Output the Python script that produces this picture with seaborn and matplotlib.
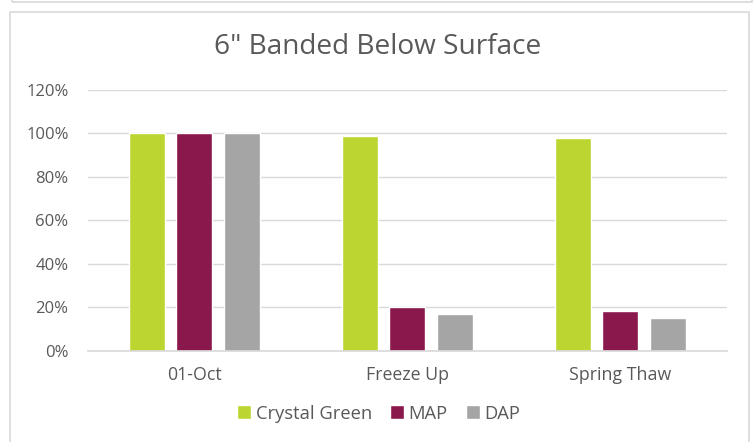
import pandas as pd
import matplotlib.pyplot as plt
import seaborn as sns
from matplotlib.patches import Rectangle
from matplotlib.ticker import PercentFormatter

stages = ['01-Oct', 'Freeze Up', 'Spring Thaw']
products = ['Crystal Green', 'MAP', 'DAP']
crystal_green = [100, 99, 98]
map_vals = [100, 20, 18]
dap_vals = [100, 17, 15]
colors = ['#bdd531', '#8b184d', '#a5a5a5']

df = pd.DataFrame({
    'stage': stages * 3,
    'product': [p for p in products for _ in stages],
    'value': [v / 100 for v in crystal_green + map_vals + dap_vals],
})

sns.set_theme(style='white')
plt.rcParams['font.family'] = ['Open Sans', 'DejaVu Sans']
text_col = '#595959'

fig = plt.figure(figsize=(7.56, 4.42), dpi=100)
ax = fig.add_axes([0.1164, 0.207, 0.8452, 0.5894])

sns.barplot(data=df, x='stage', y='value', hue='product', palette=colors,
            width=0.669, gap=0.242, ax=ax, saturation=1, errorbar=None)

ax.set_ylim(0, 1.2)
ax.set_xlim(-0.5, 2.5)
ax.set_yticks([0, 0.2, 0.4, 0.6, 0.8, 1.0, 1.2])
ax.yaxis.set_major_formatter(PercentFormatter(1.0, decimals=0))
ax.grid(axis='y', color='#d9d9d9', linewidth=1)
ax.set_axisbelow(True)
for s in ['top', 'right', 'left']:
    ax.spines[s].set_visible(False)
ax.spines['bottom'].set_color('#d9d9d9')
ax.spines['bottom'].set_linewidth(1.2)
ax.tick_params(axis='y', length=0, pad=14, labelsize=12, labelcolor=text_col)
ax.tick_params(axis='x', length=0, pad=11, labelsize=12.8, labelcolor=text_col)
ax.set_xlabel('')
ax.set_ylabel('')

fig.text(0.5, 0.894, '6" Banded Below Surface', ha='center', va='center',
         fontsize=20.2, color=text_col)

handles, labels = ax.get_legend_handles_labels()
ax.legend(handles, labels, loc='center', bbox_to_anchor=(0.455, -0.242),
          ncol=3, frameon=False, fontsize=13.2, labelcolor=text_col,
          handlelength=0.75, handleheight=0.75, handletextpad=0.25,
          columnspacing=1.0)

# chart frame
fig.patches.append(Rectangle((10 / 756, -0.05), 739 / 756, 1 - 12 / 442 + 0.05,
                             transform=fig.transFigure, fill=False,
                             edgecolor='#d9d9d9', linewidth=1.2))
fig.patches.append(Rectangle((12 / 756, 1 - 1.5 / 442), 740 / 756, 0.1,
                             transform=fig.transFigure, fill=False,
                             edgecolor='#d9d9d9', linewidth=1.2))

fig.savefig('out.png', dpi=100)
